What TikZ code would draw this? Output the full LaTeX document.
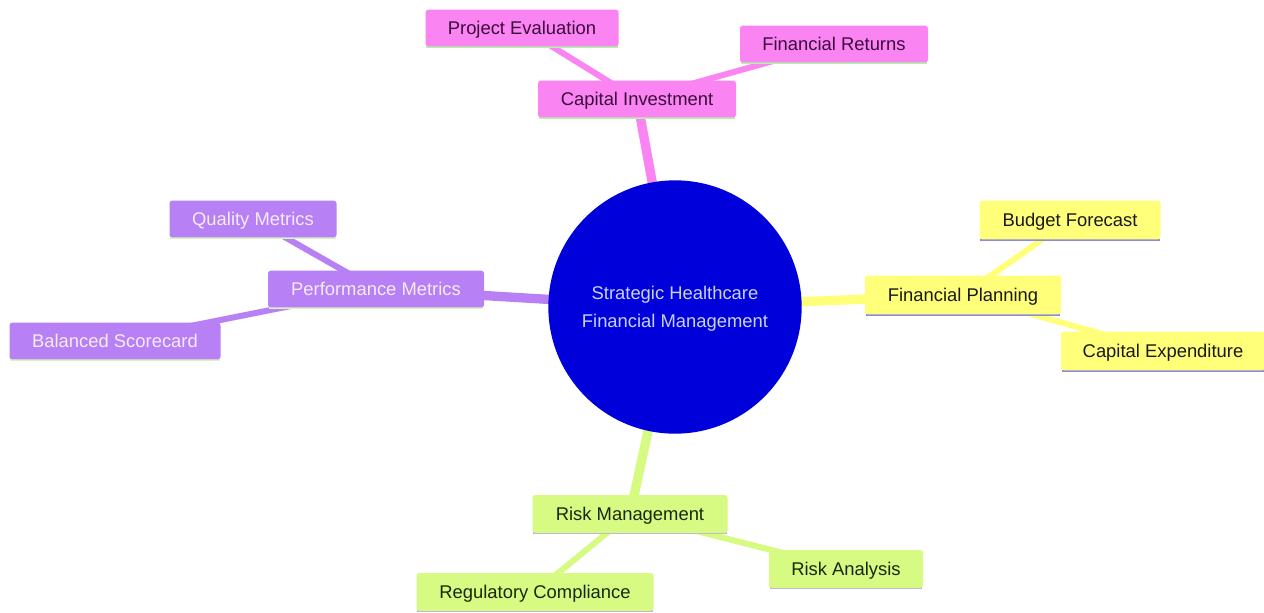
\documentclass[tikz,border=0pt]{standalone}
\usepackage{fontspec}
\setmainfont{Liberation Sans}
\definecolor{pinkc}{RGB}{250,133,242}
\definecolor{pinktxt}{RGB}{60,10,60}
\definecolor{pinkline}{RGB}{180,240,170}
\definecolor{purc}{RGB}{184,128,245}
\definecolor{purtxt}{RGB}{245,235,250}
\definecolor{purline}{RGB}{215,245,190}
\definecolor{yelc}{RGB}{255,255,122}
\definecolor{yeltxt}{RGB}{25,25,25}
\definecolor{yelline}{RGB}{140,140,220}
\definecolor{grnc}{RGB}{215,250,130}
\definecolor{grntxt}{RGB}{25,40,10}
\definecolor{grnline}{RGB}{190,175,225}
\definecolor{bluec}{RGB}{0,0,218}
\definecolor{bluetxt}{RGB}{200,210,250}
\begin{document}
\begin{tikzpicture}[x=0.75pt,y=-0.75pt,
  box/.style={rectangle,rounded corners=2pt,inner xsep=0pt,inner ysep=0pt,
    text height=12.6pt,text depth=2.9pt,
    minimum height=27.5pt,font=\fontsize{13.8}{16}\selectfont},
  pinkbox/.style={box,fill=pinkc,text=pinktxt,
    append after command={\pgfextra{\draw[pinkline,line width=1.6pt] (\tikzlastnode.south west)++(0.8pt,0) -- ([xshift=-0.8pt]\tikzlastnode.south east);}}},
  purbox/.style={box,fill=purc,text=purtxt,
    append after command={\pgfextra{\draw[purline,line width=1.6pt] (\tikzlastnode.south west)++(0.8pt,0) -- ([xshift=-0.8pt]\tikzlastnode.south east);}}},
  yelbox/.style={box,fill=yelc,text=yeltxt,
    append after command={\pgfextra{\draw[yelline,line width=1.6pt] (\tikzlastnode.south west)++(0.8pt,0) -- ([xshift=-0.8pt]\tikzlastnode.south east);}}},
  grnbox/.style={box,fill=grnc,text=grntxt,
    append after command={\pgfextra{\draw[grnline,line width=1.6pt] (\tikzlastnode.south west)++(0.8pt,0) -- ([xshift=-0.8pt]\tikzlastnode.south east);}}},
  mainlink/.style={line width=7pt},
  leaflink/.style={line width=4.5pt}
]
\useasboundingbox (0,0) rectangle (1264,612);
\fill[white] (0,0) rectangle (1264,612);

% connectors (drawn first, behind nodes)
\coordinate (cC) at (675,307);
\coordinate (pCI) at (637,99);
\coordinate (pPE) at (522,28);
\coordinate (pFR) at (834,44);
\coordinate (pPM) at (376,289);
\coordinate (pQM) at (253,219);
\coordinate (pBS) at (115,341);
\coordinate (pFP) at (963,295);
\coordinate (pBF) at (1070,220);
\coordinate (pCE) at (1163,351);
\coordinate (pRM) at (630,514);
\coordinate (pRA) at (846,569);
\coordinate (pRC) at (535,592);

\draw[pinkc,leaflink] (pCI) -- (pPE);
\draw[pinkc,leaflink] (pCI) -- (pFR);
\draw[pinkc,mainlink] (cC) -- (pCI);
\draw[purc,leaflink] (pPM) -- (pQM);
\draw[purc,leaflink] (pPM) -- (pBS);
\draw[purc,mainlink] (cC) -- (pPM);
\draw[yelc,leaflink] (pFP) -- (pBF);
\draw[yelc,leaflink] (pFP) -- (pCE);
\draw[yelc,mainlink] (cC) -- (pFP);
\draw[grnc,leaflink] (pRM) -- (pRA);
\draw[grnc,leaflink] (pRM) -- (pRC);
\draw[grnc,mainlink] (cC) -- (pRM);

% nodes
\node[circle,fill=bluec,minimum size=190pt,inner sep=0pt,text=bluetxt,
  align=center,text depth=0pt,font=\fontsize{13.8}{21}\selectfont] (c) at (cC)
  {Strategic Healthcare\\Financial Management};

\node[pinkbox,minimum width=148.5pt] (ci) at (pCI) {Capital Investment};
\node[pinkbox,minimum width=144.75pt] (pe) at (pPE) {Project Evaluation};
\node[pinkbox,minimum width=141pt] (fr) at (pFR) {Financial Returns};

\node[purbox,minimum width=162pt] (pm) at (pPM) {Performance Metrics};
\node[purbox,minimum width=125.25pt] (qm) at (pQM) {Quality Metrics};
\node[purbox,minimum width=158.25pt] (bs) at (pBS) {Balanced Scorecard};

\node[yelbox,minimum width=147pt,minimum height=29pt] (fp) at (pFP) {Financial Planning};
\node[yelbox,minimum width=135.75pt,minimum height=29pt] (bf) at (pBF) {Budget Forecast};
\node[yelbox,minimum width=153pt,minimum height=29pt] (ce) at (pCE) {Capital Expenditure};

\node[grnbox,minimum width=146.25pt,minimum height=28.5pt] (rm) at (pRM) {Risk Management};
\node[grnbox,minimum width=115.5pt,minimum height=28.5pt] (ra) at (pRA) {Risk Analysis};
\node[grnbox,minimum width=177.75pt,minimum height=28.5pt] (rc) at (pRC) {Regulatory Compliance};
\end{tikzpicture}
\end{document}
